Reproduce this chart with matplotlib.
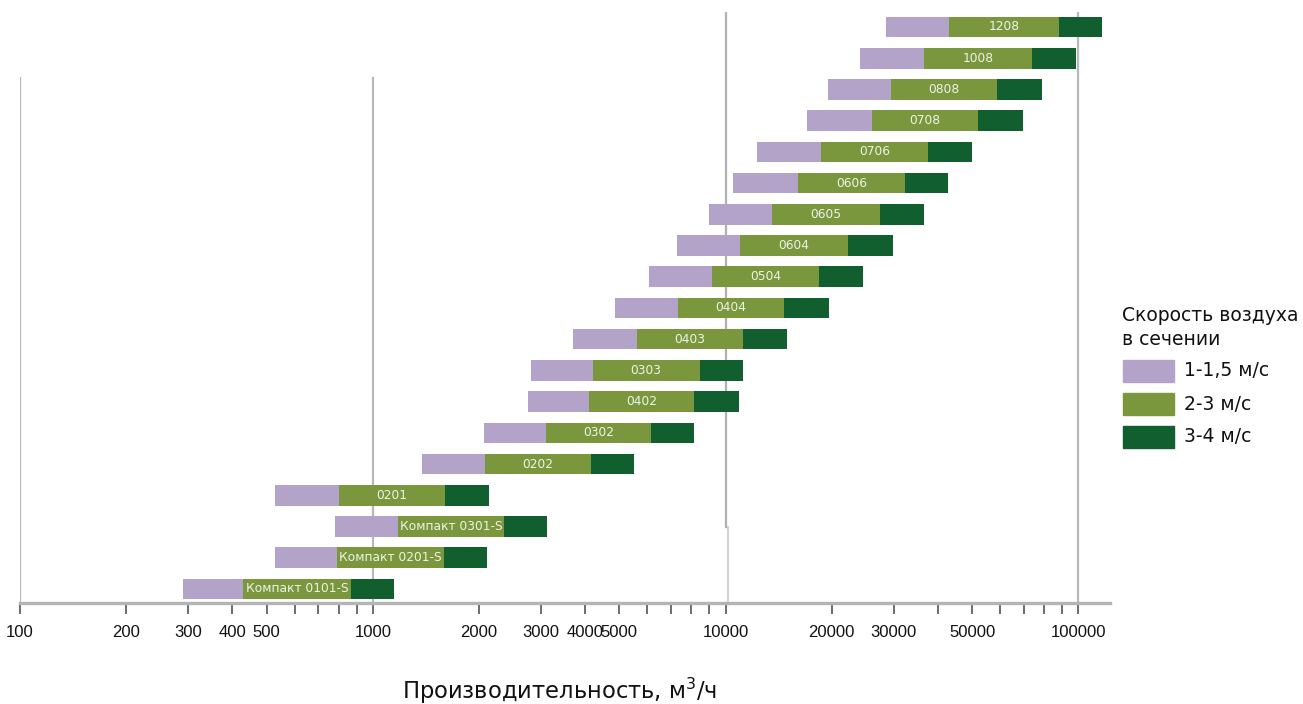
import matplotlib
matplotlib.use("Agg")
import matplotlib.pyplot as plt
from matplotlib.patches import Rectangle
from matplotlib.ticker import NullLocator
from matplotlib import font_manager
import numpy as np

plt.rcParams['font.family'] = ['DejaVu Sans']

# models from bottom to top
models = ["Компакт 0101-S", "Компакт 0201-S", "Компакт 0301-S", "0201", "0202",
          "0302", "0402", "0303", "0403", "0404", "0504", "0604", "0605",
          "0606", "0706", "0708", "0808", "1008", "1208"]
# air flow (m3/h) at 1, 1.5, 3 and 4 m/s
q_1 = [290, 530, 780, 530, 1380, 2070, 2750, 2800, 3700, 4850, 6050, 7300,
       9000, 10500, 12300, 17000, 19500, 24000, 28500]
q_15 = [430, 790, 1180, 800, 2080, 3100, 4100, 4200, 5600, 7350, 9150, 11000,
        13500, 16000, 18700, 26000, 29500, 36500, 43000]
q_3 = [870, 1590, 2360, 1600, 4150, 6150, 8150, 8450, 11200, 14600, 18400,
       22200, 27400, 32300, 37500, 52000, 59000, 74000, 88000]
q_4 = [1150, 2110, 3120, 2130, 5500, 8150, 10900, 11200, 14900, 19600, 24600,
       29800, 36500, 42800, 50000, 69500, 79000, 98500, 117000]

tick_labels = [100, 200, 300, 400, 500, 1000, 2000, 3000, 4000, 5000,
               10000, 20000, 30000, 50000, 100000]
legend_title = ["Скорость воздуха", "в сечении"]
legend_labels = ["1-1,5 м/с", "2-3 м/с", "3-4 м/с"]

c_low = "#b3a3c9"
c_mid = "#7b973e"
c_high = "#115e2e"

q_1 = np.array(q_1); q_15 = np.array(q_15); q_3 = np.array(q_3); q_4 = np.array(q_4)
y = np.arange(len(models))

# narrow font for the tick numbers if it is there
names = {f.name for f in font_manager.fontManager.ttflist}
if "Liberation Sans Narrow" in names:
    tick_font, tick_size = "Liberation Sans Narrow", 14.5
else:
    tick_font, tick_size = "Liberation Sans", 12

fig = plt.figure(figsize=(13.03, 7.04), dpi=100)
ax = fig.add_axes([20 / 1303, 1 - 603 / 704, 1090 / 1303, 591 / 704])
ax.set_xscale("log")
ax.set_xlim(100, 123000)
ax.set_ylim(-0.45, 18.48)

# grid lines (drawn like in the original scan)
ax.axvline(100, ymin=0, ymax=0.888, color="#b8b8b8", lw=1.6, zorder=1)
ax.axvline(1000, ymin=0, ymax=0.888, color="#b8b8b8", lw=1.6, zorder=1)
ax.axvline(10000, ymin=0.128, ymax=1, color="#b0b0b0", lw=1.6, zorder=1)
ax.axvline(10150, ymin=0, ymax=0.128, color="#d0d0d0", lw=1.4, zorder=1)
ax.axvline(100000, ymin=0, ymax=1, color="#b8b8b8", lw=1.6, zorder=1)

h = 0.66
ax.barh(y, q_15 - q_1, left=q_1, height=h, color=c_low, zorder=2)
ax.barh(y, q_3 - q_15, left=q_15, height=h, color=c_mid, zorder=2)
ax.barh(y, q_4 - q_3, left=q_3, height=h, color=c_high, zorder=2)

for yi, name, a, b in zip(y, models, q_15, q_3):
    ax.text(np.sqrt(a * b), yi, name, ha="center", va="center",
            fontsize=8.8, color="#eef2e6", zorder=3)

# ticks at every multiple, labels only at selected values
ticks = []
for dec in [100, 1000, 10000]:
    for m in range(1, 10):
        ticks.append(dec * m)
ticks.append(100000)
labels = [str(t) if t in tick_labels else "" for t in ticks]
ax.set_xticks(ticks, labels)
ax.xaxis.set_minor_locator(NullLocator())
ax.tick_params(axis="x", length=8, width=1.2, color="#555555", pad=8,
               labelcolor="#111111")
for lab in ax.get_xticklabels():
    lab.set_fontfamily(tick_font)
    lab.set_fontsize(tick_size)
ax.set_yticks([])

for s in ["top", "right", "left"]:
    ax.spines[s].set_visible(False)
ax.spines["bottom"].set_color("#b4b4b4")
ax.spines["bottom"].set_linewidth(2.4)

fig.text(560 / 1303, 1 - 699 / 704, "Производительность, м$^3$/ч",
         ha="center", va="baseline", fontsize=16.3, color="#111111")

# legend drawn by hand
fig.text(1122 / 1303, 1 - 321 / 704, legend_title[0], ha="left",
         va="baseline", fontsize=13.5, color="#111111")
fig.text(1122 / 1303, 1 - 345 / 704, legend_title[1], ha="left",
         va="baseline", fontsize=13.5, color="#111111")
for i, (lab, c) in enumerate(zip(legend_labels, [c_low, c_mid, c_high])):
    top = 360 + i * 33
    fig.patches.append(Rectangle((1123 / 1303, 1 - (top + 22) / 704),
                                 51 / 1303, 22 / 704, color=c,
                                 transform=fig.transFigure, figure=fig))
    fig.text(1184 / 1303, 1 - (top + 11) / 704, lab, ha="left",
             va="center", fontsize=13.5, color="#111111")

fig.savefig("out.png", dpi=100)
